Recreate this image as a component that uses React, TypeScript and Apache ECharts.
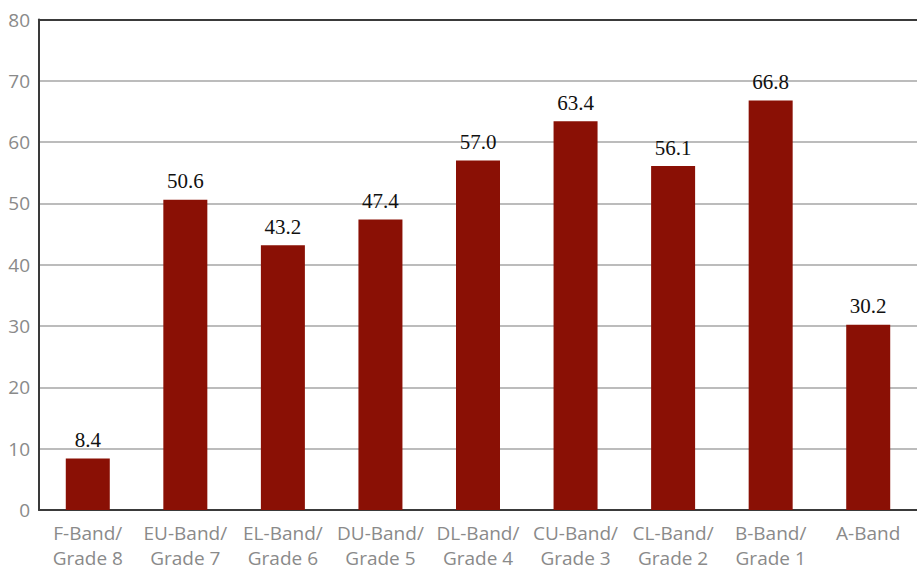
import React, { useEffect, useRef } from "react";
import * as echarts from "echarts";

const categories = [
  "F-Band/\nGrade 8",
  "EU-Band/\nGrade 7",
  "EL-Band/\nGrade 6",
  "DU-Band/\nGrade 5",
  "DL-Band/\nGrade 4",
  "CU-Band/\nGrade 3",
  "CL-Band/\nGrade 2",
  "B-Band/\nGrade 1",
  "A-Band",
];
const values = [8.4, 50.6, 43.2, 47.4, 57.0, 63.4, 56.1, 66.8, 30.2];

export default function App() {
  const ref = useRef<HTMLDivElement>(null);
  useEffect(() => {
    if (!ref.current) return;
    const chart = echarts.init(ref.current, undefined, { renderer: "svg" });
    const sans = "'Open Sans', sans-serif";
    chart.setOption({
      animation: false,
      backgroundColor: "#ffffff",
      grid: { left: 39, right: -8, top: 19.5, bottom: 59, containLabel: false },
      xAxis: [
        {
          type: "category",
          data: categories,
          axisLine: { show: true, lineStyle: { color: "#3a3a3a", width: 2 } },
          axisTick: { show: false },
          axisLabel: {
            interval: 0,
            color: "#8a8a8a",
            fontFamily: sans,
            fontSize: 19,
            lineHeight: 25,
            margin: 10,
          },
        },
        {
          type: "category",
          data: categories,
          position: "top",
          axisLine: { show: true, lineStyle: { color: "#3a3a3a", width: 2 } },
          axisTick: { show: false },
          axisLabel: { show: false },
        },
      ],
      yAxis: {
        type: "value",
        min: 0,
        max: 80,
        interval: 10,
        axisLine: { show: true, lineStyle: { color: "#3a3a3a", width: 2 } },
        axisTick: { show: false },
        axisLabel: { color: "#8a8a8a", fontFamily: sans, fontSize: 19, margin: 9 },
        splitLine: { show: true, lineStyle: { color: "#a6a6a6", width: 1.5 } },
      },
      series: [
        {
          type: "bar",
          data: values,
          barWidth: 44,
          itemStyle: { color: "#8a1005" },
          label: {
            show: true,
            position: "top",
            distance: 8,
            color: "#111111",
            fontFamily: "'Liberation Serif', serif",
            fontSize: 21,
            formatter: (p: any) => Number(p.value).toFixed(1),
          },
        },
      ],
    });
    return () => chart.dispose();
  }, []);
  return (
    <div
      ref={ref}
      style={{ position: "fixed", left: 0, top: 0, width: 917, height: 570 }}
    />
  );
}
